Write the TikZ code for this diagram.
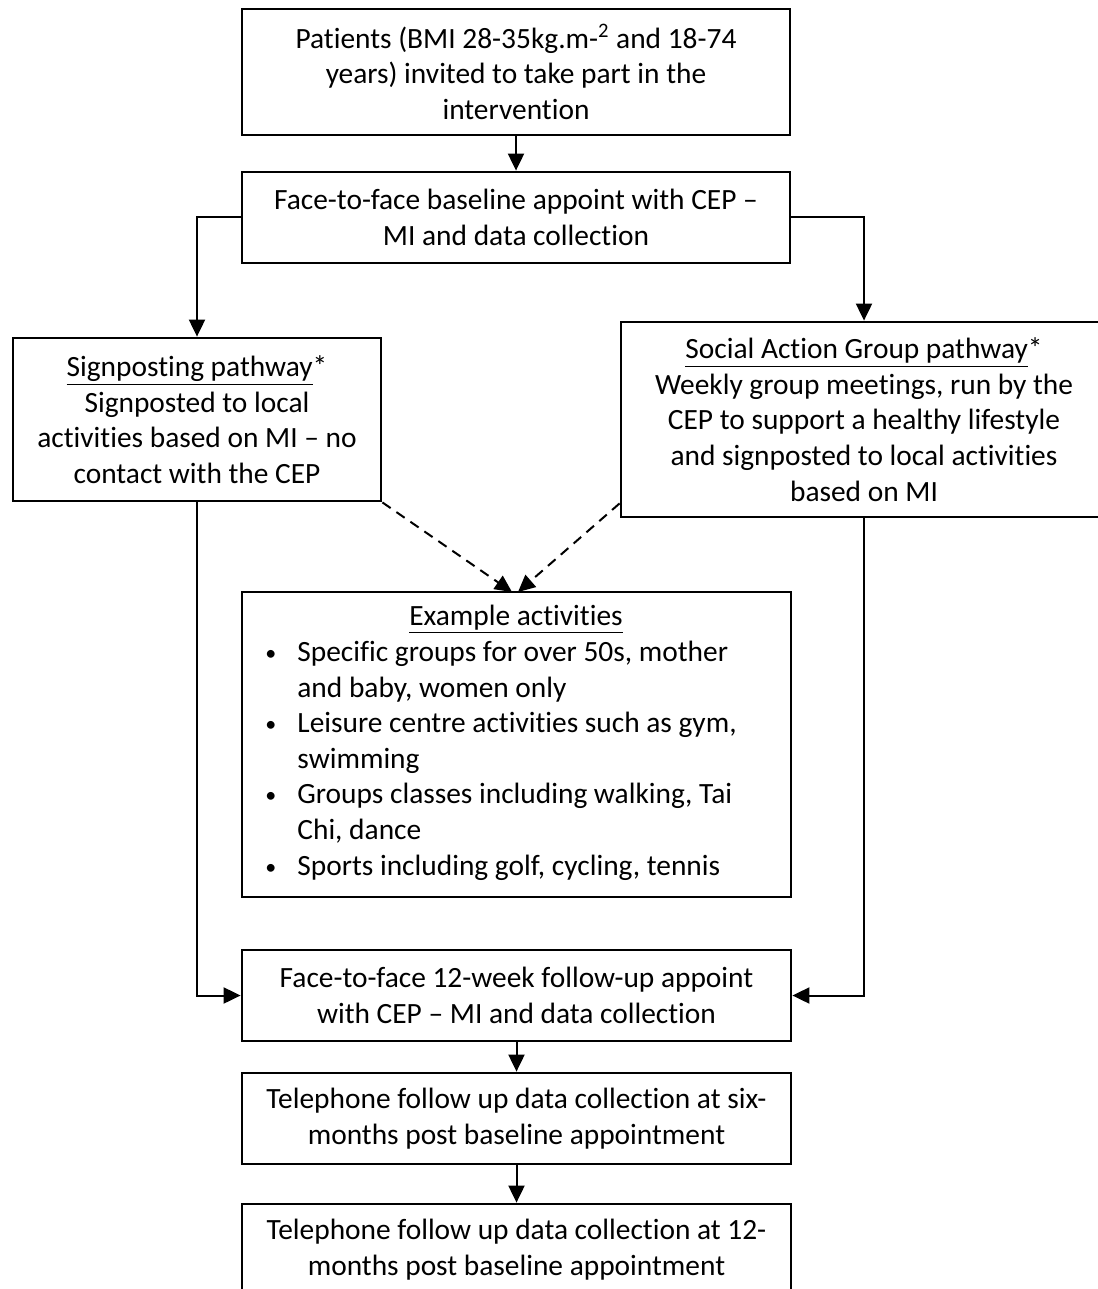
\documentclass[tikz,border=0pt]{standalone}
\usepackage{fontspec}
\setmainfont{Carlito}[Ligatures={TeX,NoCommon}, Contextuals=NoAlternate]
\usetikzlibrary{arrows.meta,calc}
\newcommand{\mybul}{\makebox[16pt][l]{\raisebox{0.5pt}{\fontsize{11}{11}\selectfont •}}}
\begin{document}
\begin{tikzpicture}[x=0.5pt,y=-0.5pt,
  font=\fontsize{14.7}{17.8}\selectfont,
  box/.style={draw, line width=1.4pt, rectangle, inner sep=0pt, align=center},
  arr/.style={line width=1pt, -{Triangle[length=8.5pt,width=8pt]}},
  darr/.style={arr, dash pattern=on 5pt off 3.5pt}]
\useasboundingbox (0,0) rectangle (1097,1289);
\fill[white] (0,0) rectangle (1097,1289);

\node[box, minimum width=274pt, minimum height=63pt] (b1) at (516,72)
  {Patients (BMI 28-35kg.m-\textsuperscript{2} and 18-74\\ years) invited to take part in the\\ intervention};
\node[box, minimum width=274pt, minimum height=45.5pt] (b2) at (516,217.5)
  {Face-to-face baseline appoint with CEP --\\ MI and data collection};
\node[box, minimum width=184pt, minimum height=81.5pt] (sp) at (197,419.5)
  {\underline{Signposting pathway}*\\ Signposted to local\\ activities based on MI -- no\\ contact with the CEP};
\node[box, minimum width=243pt, minimum height=97.5pt] (sag) at (864,419.5)
  {\underline{Social Action Group pathway}*\\ Weekly group meetings, run by the\\ CEP to support a healthy lifestyle\\ and signposted to local activities\\ based on MI};
\node[box, minimum width=274.5pt, minimum height=152.5pt] (ex) at (516.5,744.5) {};
\node[anchor=base, inner sep=0pt] (extitle) at (516,625) {\underline{Example activities}};
\node[anchor=base west, inner sep=0pt, align=left] (exlist) at (265,875)
  {\mybul Specific groups for over 50s, mother\\
   \hspace*{16pt}and baby, women only\\
   \mybul Leisure centre activities such as gym,\\
   \hspace*{16pt}swimming\\
   \mybul Groups classes including walking, Tai\\
   \hspace*{16pt}Chi, dance\\
   \mybul Sports including golf, cycling, tennis};
\node[box, minimum width=274.5pt, minimum height=45.5pt] (fu) at (516.5,995.5)
  {Face-to-face 12-week follow-up appoint\\ with CEP -- MI and data collection};
\node[box, minimum width=274.5pt, minimum height=45.5pt] (t1) at (516.5,1118.5)
  {Telephone follow up data collection at six-\\ months post baseline appointment};
\node[box, minimum width=274.5pt, minimum height=45.5pt] (t2) at (516.5,1249.5)
  {Telephone follow up data collection at 12-\\ months post baseline appointment};

\coordinate (tipL) at (512,592);
\coordinate (tipR) at (518,592);

\draw[arr] (b1.south) -- (b2.north);
\draw[arr] (b2.west) -| (sp.north);
\draw[arr] (b2.east) -| (sag.north);
\draw[arr] (sp.south) |- (fu.west);
\draw[arr] (sag.south) |- (fu.east);
\draw[arr] (fu.south) -- (t1.north);
\draw[arr] (t1.south) -- (t2.north);
\draw[darr] (sp.south east) -- (tipL);
\draw[darr] ([yshift=7.5pt]sag.south west) -- (tipR);
\end{tikzpicture}
\end{document}
